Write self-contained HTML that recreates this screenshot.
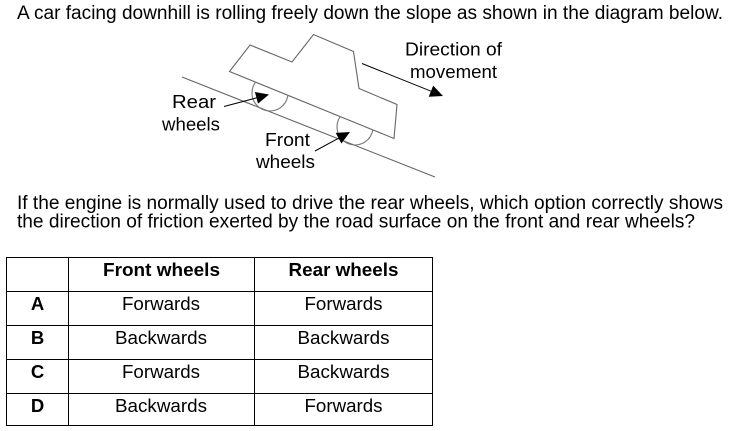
<!DOCTYPE html>
<html>
<head>
<meta charset="utf-8">
<style>
  html, body { margin: 0; padding: 0; background: #ffffff; }
  body { width: 735px; height: 431px; overflow: hidden; }
  svg { display: block; }
  text { font-family: "Liberation Sans", Arial, sans-serif; fill: #000; }
</style>
</head>
<body>
<svg width="735" height="431" viewBox="0 0 735 431" xmlns="http://www.w3.org/2000/svg">
  <defs>
    <clipPath id="below">
      <polygon points="0,-21.2 800,302 800,500 0,500"/>
    </clipPath>
  </defs>
  <rect x="0" y="0" width="735" height="431" fill="#ffffff"/>

  <!-- Top sentence -->
  <text x="17" y="19" font-size="19" textLength="706" lengthAdjust="spacingAndGlyphs">A car facing downhill is rolling freely down the slope as shown in the diagram below.</text>

  <!-- Slope -->
  <line x1="182" y1="77" x2="435" y2="177" stroke="#666" stroke-width="1.1"/>

  <!-- Car body -->
  <polygon points="229.5,71.5 250,45 292,62 313.5,34.5 353.5,51.5 359,88.5 397,104.5 394,138.5"
           fill="none" stroke="#666" stroke-width="1.1" stroke-linejoin="miter"/>

  <!-- Wheels (only portion below car) -->
  <g clip-path="url(#below)" fill="none" stroke="#777" stroke-width="1.1">
    <circle cx="270" cy="93" r="18"/>
    <circle cx="355" cy="127" r="18"/>
  </g>

  <!-- Rear wheel arrow -->
  <line x1="224" y1="106.5" x2="256.5" y2="97.9" stroke="#000" stroke-width="1"/>
  <polygon points="269,94.5 258,103.6 254.9,92" fill="#000"/>

  <!-- Front wheel arrow -->
  <line x1="315" y1="151" x2="338.6" y2="138.2" stroke="#000" stroke-width="1"/>
  <polygon points="350,132 341.4,143.5 335.7,132.9" fill="#000"/>

  <!-- Direction of movement arrow -->
  <line x1="362" y1="63.5" x2="431" y2="91.2" stroke="#000" stroke-width="1"/>
  <polygon points="443,96 428.7,96.7 433.2,85.6" fill="#000"/>

  <!-- Diagram labels -->
  <text x="405" y="55.5" font-size="18.5" textLength="97" lengthAdjust="spacingAndGlyphs">Direction of</text>
  <text x="410" y="78" font-size="18.5" textLength="87" lengthAdjust="spacingAndGlyphs">movement</text>
  <text x="172" y="108" font-size="18.5" textLength="44" lengthAdjust="spacingAndGlyphs">Rear</text>
  <text x="162" y="130.5" font-size="18.5" textLength="58" lengthAdjust="spacingAndGlyphs">wheels</text>
  <text x="265" y="146" font-size="18.5" textLength="45" lengthAdjust="spacingAndGlyphs">Front</text>
  <text x="256" y="168" font-size="18.5" textLength="59" lengthAdjust="spacingAndGlyphs">wheels</text>

  <!-- Question -->
  <text x="17" y="209" font-size="19" textLength="706" lengthAdjust="spacingAndGlyphs">If the engine is normally used to drive the rear wheels, which option correctly shows</text>
  <text x="17" y="227.5" font-size="19" textLength="678" lengthAdjust="spacingAndGlyphs">the direction of friction exerted by the road surface on the front and rear wheels?</text>

  <!-- Table -->
  <g stroke="#000" stroke-width="1" fill="none">
    <rect x="6.5" y="257.5" width="426" height="168"/>
    <line x1="68.5" y1="257.5" x2="68.5" y2="425.5"/>
    <line x1="254.5" y1="257.5" x2="254.5" y2="425.5"/>
    <line x1="6.5" y1="291.5" x2="432.5" y2="291.5"/>
    <line x1="6.5" y1="325.5" x2="432.5" y2="325.5"/>
    <line x1="6.5" y1="359.5" x2="432.5" y2="359.5"/>
    <line x1="6.5" y1="393.5" x2="432.5" y2="393.5"/>
  </g>

  <g font-size="18.5" text-anchor="middle">
    <text x="161.5" y="276" font-weight="bold" textLength="117" lengthAdjust="spacingAndGlyphs">Front wheels</text>
    <text x="343.5" y="276" font-weight="bold" textLength="110" lengthAdjust="spacingAndGlyphs">Rear wheels</text>

    <text x="37.5" y="310" font-weight="bold">A</text>
    <text x="161" y="310" textLength="78" lengthAdjust="spacingAndGlyphs">Forwards</text>
    <text x="343.5" y="310" textLength="78" lengthAdjust="spacingAndGlyphs">Forwards</text>

    <text x="37.5" y="344" font-weight="bold">B</text>
    <text x="161" y="344" textLength="92" lengthAdjust="spacingAndGlyphs">Backwards</text>
    <text x="343.5" y="344" textLength="92" lengthAdjust="spacingAndGlyphs">Backwards</text>

    <text x="37.5" y="378" font-weight="bold">C</text>
    <text x="161" y="378" textLength="78" lengthAdjust="spacingAndGlyphs">Forwards</text>
    <text x="343.5" y="378" textLength="92" lengthAdjust="spacingAndGlyphs">Backwards</text>

    <text x="37.5" y="412" font-weight="bold">D</text>
    <text x="161" y="412" textLength="92" lengthAdjust="spacingAndGlyphs">Backwards</text>
    <text x="343.5" y="412" textLength="78" lengthAdjust="spacingAndGlyphs">Forwards</text>
  </g>
</svg>
</body>
</html>
